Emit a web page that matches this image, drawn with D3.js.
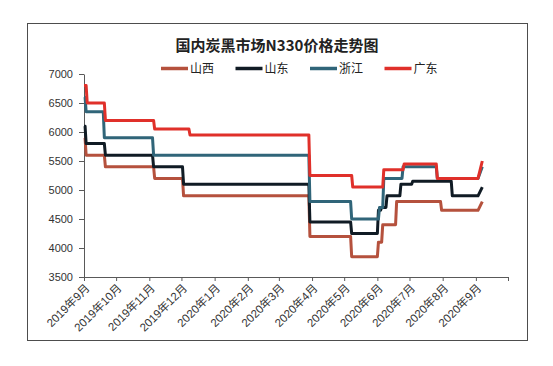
<!DOCTYPE html>
<html>
<head>
<meta charset="utf-8">
<script src="https://cdn.jsdelivr.net/npm/d3@7"></script>
<style>
  html, body { margin: 0; padding: 0; background: #fff; }
  svg { display: block; }
</style>
</head>
<body>
<svg id="chart" width="553" height="366"></svg>
<script>
// ---------------- data ----------------
const titleText = "国内炭黑市场N330价格走势图";
const seriesNames = ["山西", "山东", "浙江", "广东"];
const seriesColors = ["#B5513D", "#101B24", "#306579", "#E0302A"];
const yTicks = [3500, 4000, 4500, 5000, 5500, 6000, 6500, 7000];
const xStart = "2019-09-01";
const xEnd = "2020-10-01";

// price levels: [first day, last day, price]
const shanxi = [
  ["2019-09-01", "2019-09-02", 5900],
  ["2019-09-03", "2019-09-20", 5600],
  ["2019-09-21", "2019-11-05", 5400],
  ["2019-11-06", "2019-12-02", 5200],
  ["2019-12-03", "2020-03-29", 4900],
  ["2020-03-30", "2020-05-07", 4200],
  ["2020-05-08", "2020-06-01", 3850],
  ["2020-06-02", "2020-06-05", 4100],
  ["2020-06-06", "2020-06-18", 4400],
  ["2020-06-19", "2020-07-30", 4800],
  ["2020-07-31", "2020-09-03", 4650],
  ["2020-09-07", "2020-09-07", 4800]
];
const shandong = [
  ["2019-09-01", "2019-09-02", 6100],
  ["2019-09-03", "2019-09-20", 5800],
  ["2019-09-21", "2019-11-04", 5600],
  ["2019-11-05", "2019-12-02", 5400],
  ["2019-12-03", "2020-03-29", 5100],
  ["2020-03-30", "2020-05-07", 4450],
  ["2020-05-08", "2020-06-01", 4250],
  ["2020-06-02", "2020-06-04", 4650],
  ["2020-06-05", "2020-06-09", 4700],
  ["2020-06-10", "2020-06-22", 4900],
  ["2020-06-23", "2020-07-03", 5100],
  ["2020-07-04", "2020-08-09", 5150],
  ["2020-08-10", "2020-09-03", 4900],
  ["2020-09-07", "2020-09-07", 5050]
];
const zhejiang = [
  ["2019-09-01", "2019-09-02", 6600],
  ["2019-09-03", "2019-09-19", 6350],
  ["2019-09-20", "2019-11-04", 5900],
  ["2019-11-05", "2020-03-29", 5600],
  ["2020-03-30", "2020-05-07", 4800],
  ["2020-05-08", "2020-06-02", 4500],
  ["2020-06-03", "2020-06-06", 4700],
  ["2020-06-07", "2020-06-24", 5200],
  ["2020-06-25", "2020-07-26", 5400],
  ["2020-07-27", "2020-09-03", 5200],
  ["2020-09-07", "2020-09-07", 5400]
];
const guangdong = [
  ["2019-09-01", "2019-09-03", 6800],
  ["2019-09-04", "2019-09-20", 6500],
  ["2019-09-21", "2019-11-05", 6200],
  ["2019-11-06", "2019-12-08", 6050],
  ["2019-12-09", "2020-03-29", 5950],
  ["2020-03-30", "2020-05-08", 5250],
  ["2020-05-09", "2020-06-06", 5050],
  ["2020-06-07", "2020-06-25", 5350],
  ["2020-06-26", "2020-07-26", 5450],
  ["2020-07-27", "2020-09-03", 5200],
  ["2020-09-07", "2020-09-07", 5500]
];
const seriesData = [shanxi, shandong, zhejiang, guangdong];

// ---------------- drawing ----------------
const parse = s => { const [y, m, d] = s.split("-").map(Number); return new Date(y, m - 1, d); };
const svg = d3.select("#chart");
const W = 553, H = 366;
const plot = { left: 84, right: 508, top: 74, bottom: 277 };
const cjk = "'Noto Sans CJK SC', 'Noto Sans', sans-serif";
const latin = "'Liberation Sans', Arial, 'Noto Sans CJK SC', sans-serif";

svg.append("rect").attr("x", 0).attr("y", 0).attr("width", W).attr("height", H).attr("fill", "#fff");
svg.append("rect").attr("x", 27.5).attr("y", 23.5).attr("width", 500).attr("height", 317)
  .attr("fill", "none").attr("stroke", "#4d4d4d").attr("stroke-width", 1);

const x = d3.scaleTime().domain([parse(xStart), parse(xEnd)]).range([plot.left, plot.right]);
const y = d3.scaleLinear().domain([d3.min(yTicks), d3.max(yTicks)]).range([plot.bottom, plot.top]);

// title
svg.append("text").attr("x", 277).attr("y", 50.5).attr("text-anchor", "middle")
  .attr("font-family", cjk).attr("font-size", 15).attr("font-weight", "bold").attr("fill", "#222")
  .text(titleText);

// legend
const legend = svg.append("g");
seriesNames.forEach((name, i) => {
  const lx = 161 + i * 74.5;
  legend.append("line").attr("x1", lx).attr("x2", lx + 27).attr("y1", 68.5).attr("y2", 68.5)
    .attr("stroke", seriesColors[i]).attr("stroke-width", 3.5);
  legend.append("text").attr("x", lx + 29).attr("y", 68.5).attr("dy", "0.36em")
    .attr("font-family", cjk).attr("font-size", 12).attr("fill", "#222").text(name);
});

// axes
const yAxis = svg.append("g").attr("transform", `translate(${plot.left},0)`)
  .call(d3.axisLeft(y).tickValues(yTicks).tickSize(5).tickSizeOuter(0).tickPadding(6).tickFormat(d3.format("d")));
yAxis.select(".domain").attr("stroke", "#595959");
yAxis.selectAll(".tick line").attr("stroke", "#595959");
yAxis.selectAll("text").attr("font-family", latin).attr("font-size", 11).attr("fill", "#333");

const lastTick = parse(xEnd).getTime();
const xAxis = svg.append("g").attr("transform", `translate(0,${plot.bottom})`)
  .call(d3.axisBottom(x).ticks(d3.timeMonth.every(1)).tickSize(4).tickSizeOuter(0)
    .tickFormat(d => d.getTime() === lastTick ? "" : `${d.getFullYear()}年${d.getMonth() + 1}月`));
xAxis.select(".domain").attr("stroke", "#595959");
xAxis.selectAll(".tick line").attr("stroke", "#595959");
xAxis.selectAll("text")
  .attr("font-family", latin).attr("font-size", 11.5).attr("fill", "#333")
  .attr("text-anchor", "end").attr("x", 0).attr("y", 0).attr("dy", "0.35em")
  .attr("transform", "translate(3,9) rotate(-45)");

// lines
const line = d3.line().x(d => x(d[0])).y(d => y(d[1])).curve(d3.curveLinear);
seriesData.forEach((levels, i) => {
  const pts = [];
  levels.forEach(([a, b, v]) => {
    pts.push([parse(a), v]);
    if (b !== a) pts.push([parse(b), v]);
  });
  svg.append("path").datum(pts).attr("d", line)
    .attr("fill", "none").attr("stroke", seriesColors[i]).attr("stroke-width", 3)
    .attr("stroke-linejoin", "round");
});
</script>
</body>
</html>
